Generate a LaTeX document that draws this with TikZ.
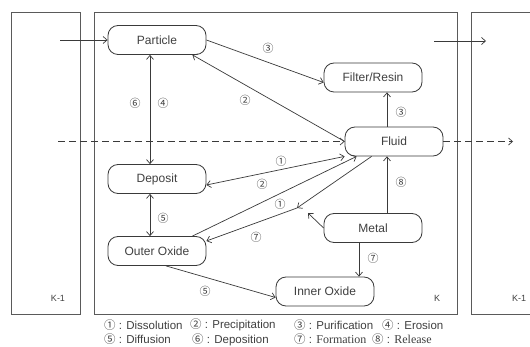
\documentclass[tikz,border=0pt]{standalone}
\usepackage{fontspec}
\setmainfont{Liberation Sans}
\newfontfamily\cjkfont{Noto Sans CJK KR}
\newfontfamily\serifword{Liberation Serif}
\usetikzlibrary{arrows.meta}
\newcommand\cnum[1]{{\cjkfont #1}}
\definecolor{lineclr}{HTML}{3A3A3A}
\definecolor{boxclr}{HTML}{5A5A5A}
\definecolor{txt}{HTML}{404040}

\begin{document}
\begin{tikzpicture}[x=1pt,y=-1pt,
  ink/.style={draw=lineclr, line width=0.7pt},
  flow/.style={ink, -{Straight Barb[length=4pt,width=7pt]}},
  both/.style={ink, {Straight Barb[length=4pt,width=7pt]}-{Straight Barb[length=4pt,width=7pt]}},
  dashline/.style={dash pattern=on 7pt off 4pt},
  stage/.style={rounded corners=10pt, draw=lineclr, line width=0.8pt,
    minimum width=98pt, minimum height=29pt, inner sep=0pt,
    font=\fontsize{12}{14}\selectfont, text=txt},
  num/.style={font=\cjkfont\fontsize{11}{12}\selectfont, text=txt, inner sep=0pt},
  region/.style={draw=boxclr, line width=0.9pt},
  regionlabel/.style={font=\fontsize{9}{10}\selectfont, text=txt, inner sep=0pt},
  legend/.style={anchor=west, inner sep=0pt, font=\fontsize{11.5}{13}\selectfont, text=txt}]

\fill[white] (0,0) rectangle (530,347);
\useasboundingbox (0,0) rectangle (530,347);

% control volumes K-1, K, K+1
\draw[region] (11,12) rectangle (80,314);
\draw[region] (94,12) rectangle (457,314);
\draw[region] (533,12) -- (471,12) -- (471,314) -- (533,314);
\node[regionlabel] (kleft) at (58,298) {K-1};
\node[regionlabel] (kmid) at (437,298) {K};
\node[regionlabel] (kright) at (519,298) {K-1};

% species
\node[stage] (particle) at (157,40) {Particle};
\node[stage] (filter) at (373,77.5) {Filter/Resin};
\node[stage] (fluid) at (394,141.5) {Fluid};
\node[stage] (deposit) at (157,179) {Deposit};
\node[stage] (outer) at (157,251) {Outer Oxide};
\node[stage] (metal) at (373,228) {Metal};
\node[stage] (inner) at (325,291.5) {Inner Oxide};

% free ends
\coordinate (inL) at (60,40);
\coordinate (outA) at (434,41);
\coordinate (outB) at (486,41);
\coordinate (dashL) at (58,141.5);
\coordinate (dashR) at (513,141.5);
\coordinate (junc) at (297,208);
\coordinate (mtip) at (308,213);

% transport between volumes
\draw[flow] (inL) -- (particle.west);
\draw[flow] (outA) -- (outB);
\draw[flow,dashline] (dashL) -- (fluid.west);
\draw[flow,dashline] (fluid.east) -- (dashR);

% mechanisms
\draw[flow] (particle.east) -- ([yshift=-5pt]filter.west);
\draw[flow] (fluid.west) -- ([xshift=-14pt]particle.south east);
\draw[flow] ([xshift=-7pt]fluid.north) -- ([xshift=-7pt]fluid.north |- filter.south);
\draw[both] ([xshift=-7pt]particle.south) -- ([xshift=-7pt]deposit.north);
\draw[both] ([xshift=-7pt]deposit.south) -- ([xshift=-7pt]outer.north);
\draw[both] ([yshift=-6pt]deposit.east) -- (fluid.south west);
\draw[flow] ([xshift=-14pt]outer.north east) -- ([xshift=12pt]fluid.south west);
\draw[flow] ([xshift=27pt]fluid.south west) -- (junc);
\draw[flow] (junc) -- ([yshift=10pt]outer.east);
\draw[flow] (metal.west) -- (mtip);
\draw[flow] ([xshift=14pt]metal.north) -- ([xshift=14pt]metal.north |- fluid.south);
\draw[flow] ([xshift=-14pt]metal.south) -- ([xshift=-14pt]metal.south |- inner.north);
\draw[flow] ([xshift=9pt]outer.south) -- ([yshift=-6pt]inner.west);

% mechanism numbers
\node[num] (m3a) at (268,48) {③};
\node[num] (m2a) at (245,100) {②};
\node[num] (m6) at (135,103) {⑥};
\node[num] (m4) at (163,103) {④};
\node[num] (m3b) at (401,112) {③};
\node[num] (m1a) at (281,161) {①};
\node[num] (m2b) at (262,184) {②};
\node[num] (m1b) at (280,204) {①};
\node[num] (m7a) at (256,237) {⑦};
\node[num] (m5a) at (163,218) {⑤};
\node[num] (m8) at (401,182) {⑧};
\node[num] (m7b) at (373,258) {⑦};
\node[num] (m5b) at (205,291) {⑤};

% legend
\node[legend] (lg1) at (104,325) {\cnum{①} : Dissolution};
\node[legend] (lg2) at (190,325) {\cnum{②} : Precipitation};
\node[legend] (lg3) at (294,325) {\cnum{③} : Purification};
\node[legend] (lg4) at (382,325) {\cnum{④} : Erosion};
\node[legend] (lg5) at (104,339.5) {\cnum{⑤} : Diffusion};
\node[legend] (lg6) at (192,339.5) {\cnum{⑥} : Deposition};
\node[legend] (lg7) at (294,339.5) {\cnum{⑦} : {\serifword\fontsize{12}{13}\selectfont Formation}};
\node[legend] (lg8) at (372,339.5) {\cnum{⑧} : {\serifword\fontsize{12}{13}\selectfont Release}};
\end{tikzpicture}
\end{document}
